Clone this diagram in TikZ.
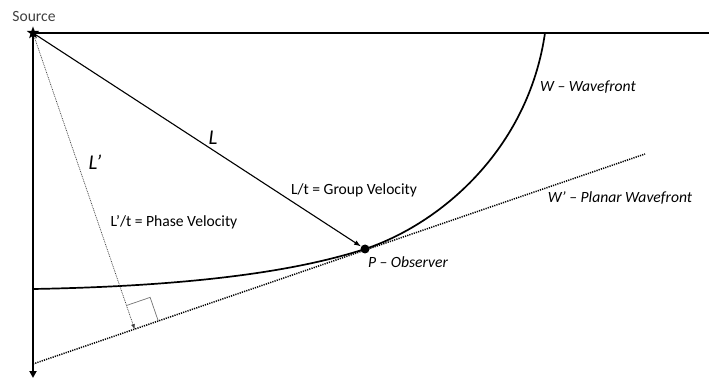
\documentclass[tikz,border=0pt]{standalone}
\usepackage{fontspec}
\setmainfont{Carlito}
\usetikzlibrary{calc,shapes.geometric,arrows.meta}
\begin{document}
\begin{tikzpicture}[x=1pt,y=-1pt,
  axis/.style={line width=2.2pt},
  lbl/.style={font=\fontsize{15.6}{18}\selectfont, inner sep=0pt},
  ilbl/.style={font=\fontsize{15.6}{18}\selectfont\itshape, inner sep=0pt},
  big/.style={font=\fontsize{21}{24}\selectfont\itshape, inner sep=0pt},
  dotline/.style={line width=1.5pt, dash pattern=on 1.2pt off 1.1pt},
  fineDot/.style={line width=0.7pt, dash pattern=on 0.9pt off 0.9pt, draw=black!75},
]
\useasboundingbox (0,0) rectangle (709,379);
% key points
\coordinate (Sc) at (33,33);
\coordinate (TopEnd) at (709,33);
\coordinate (AxisEnd) at (33,378);
\node[circle, fill=black, inner sep=0pt, minimum size=9pt] (P) at (365,249) {};
\coordinate (WA) at (33,364);
\coordinate (WB) at (645,154);
\coordinate (Wleft) at (33,289);
\coordinate (Wtop) at (545,33);
\coordinate (F) at ($(WA)!(Sc)!(WB)$);
\coordinate (M1) at ($(F)!25pt!(Sc)$);
\coordinate (M2) at ($(F)!25pt!(WB)$);
\coordinate (M3) at ($(M1)+(M2)-(F)$);

% axes
\draw[axis] (Sc) -- (TopEnd);
\draw[axis, -{Triangle[length=7pt,width=7pt]}] (Sc) -- (AxisEnd);

% wavefront
\draw[line width=1.7pt] (Wleft) .. controls (200,286) and (300,270) .. (P.center)
  .. controls (440,224) and (528,150) .. (Wtop);

% planar wavefront
\draw[dotline] (WA) -- (WB);

% L' (phase)
\draw[fineDot, -{Latex[length=5pt,width=4pt]}] (Sc) -- (F);
\draw[draw=black!55, line width=0.7pt] (M1) -- (M3) -- (M2);

% L (group)
\draw[line width=1.1pt, -{Latex[length=7pt,width=5pt]}] (Sc) -- (P);

% labels
\node[lbl, text=black!75] (src) at (34,16) {Source};
\node[big] (lL) at (213,138) {L};
\node[big] (lLp) at (95,162) {L’};
\node[lbl] (gv) at (354,190) {L/t = Group Velocity};
\node[lbl] (pv) at (174,222) {L’/t = Phase Velocity};
\node[ilbl] (obs) at (408,262) {P – Observer};
\node[ilbl] (wf) at (588,87) {W – Wavefront};
\node[ilbl] (pwf) at (620,198) {W’ – Planar Wavefront};

\node[star, star points=5, star point ratio=2.4, fill=black, inner sep=0pt, minimum size=13pt] (S) at (Sc) {};
\end{tikzpicture}
\end{document}
